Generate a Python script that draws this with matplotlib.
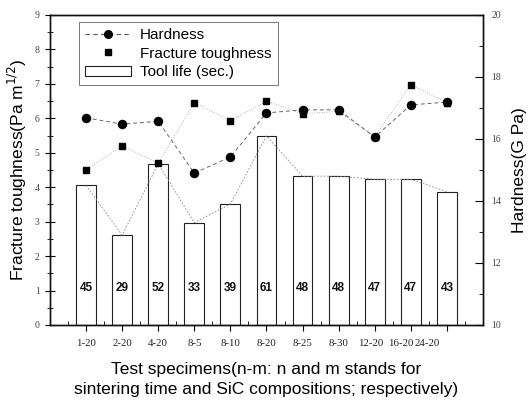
import matplotlib
matplotlib.use("Agg")
import matplotlib.pyplot as plt
from matplotlib.patches import Patch
from matplotlib.lines import Line2D
from matplotlib.ticker import MultipleLocator, FixedLocator
from matplotlib.transforms import ScaledTranslation
import numpy as np

categories = ['1-20', '2-20', '4-20', '8-5', '8-10', '8-20', '8-25', '8-30',
              '12-20', '16-20', '24-20']
tool_life = [45, 29, 52, 33, 39, 61, 48, 48, 47, 47, 43]
hardness = [16.68, 16.48, 16.57, 14.9, 15.42, 16.84, 16.94, 16.94, 16.06, 17.1, 17.19]
toughness = [4.5, 5.2, 4.7, 6.45, 5.93, 6.5, 6.13, 6.2, 5.47, 6.98, 6.45]

sans = ['Liberation Sans', 'DejaVu Sans']
serif = ['Liberation Serif', 'DejaVu Serif']

fig = plt.figure(figsize=(5.29, 4.09), dpi=100)
ax = fig.add_axes([0.0945, 0.2054, 0.8185, 0.758])
axb = ax.twinx()
axh = ax.twinx()
axb.set_zorder(0)
ax.set_zorder(1)
axh.set_zorder(2)
ax.patch.set_visible(False)
axh.patch.set_visible(False)
axb.patch.set_facecolor('white')

x = np.arange(1, len(categories) + 1)

# Tool life bars on hidden axis (0-100)
axb.bar(x, tool_life, width=0.55, facecolor='white', edgecolor='#222222', linewidth=0.8)
axb.plot(x, tool_life, linestyle=(0, (2, 2)), color='#888888', linewidth=0.6)
for xi, v in zip(x, tool_life):
    axb.text(xi, 12, str(v), ha='center', va='center', fontsize=8.5,
             fontweight='bold', family=sans, color='#111111')
axb.set_ylim(0, 100)
axb.set_yticks([])
for s in axb.spines.values():
    s.set_visible(False)

# Fracture toughness
ax.plot(x, toughness, linestyle=(0, (1, 2)), color='#999999', linewidth=0.6,
        marker='s', markersize=4.2, markerfacecolor='black', markeredgecolor='black')
ax.set_xlim(0, 12)
ax.set_ylim(0, 9)
ax.yaxis.set_major_locator(MultipleLocator(1))
ax.yaxis.set_minor_locator(MultipleLocator(0.5))
ax.xaxis.set_major_locator(FixedLocator(x))
ax.xaxis.set_minor_locator(FixedLocator(np.arange(0.5, 12, 1.0)))
ax.set_xticklabels(categories)
ax.tick_params(axis='y', which='major', direction='inout', length=7, width=0.8,
               labelsize=7, labelcolor='#444444', pad=4)
ax.tick_params(axis='y', which='minor', direction='inout', length=4, width=0.6)
ax.tick_params(axis='x', which='major', direction='out', length=4, width=0.8,
               labelsize=7.8, labelcolor='#222222', pad=6)
ax.tick_params(axis='x', which='minor', direction='in', length=3, width=0.6)
for lab in ax.get_yticklabels() + ax.get_xticklabels():
    lab.set_family(serif)
offs = {'12-20': -4, '16-20': -10, '24-20': -20}
for lab in ax.get_xticklabels():
    t = lab.get_text()
    if t in offs:
        lab.set_transform(lab.get_transform() + ScaledTranslation(offs[t] / 100, 0, fig.dpi_scale_trans))

ax.set_ylabel('Fracture toughness(Pa m$^{1/2}$)', fontsize=12.5, family=sans, labelpad=4)
ax.set_xlabel('Test specimens(n-m: n and m stands for\nsintering time and SiC compositions; respectively)',
              fontsize=12.5, family=sans, labelpad=10, linespacing=1.45)

# Hardness
axh.plot(x, hardness, linestyle=(0, (4, 3)), color='#666666', linewidth=0.7,
         marker='o', markersize=5.8, markerfacecolor='black', markeredgecolor='black')
axh.set_ylim(10, 20)
axh.yaxis.set_major_locator(MultipleLocator(2))
axh.yaxis.set_minor_locator(MultipleLocator(1))
axh.tick_params(axis='y', which='major', direction='in', length=6, width=0.8,
                labelsize=7, labelcolor='#444444', pad=6)
axh.tick_params(axis='y', which='minor', direction='in', length=3, width=0.6)
for lab in axh.get_yticklabels():
    lab.set_family(serif)
axh.set_ylabel('Hardness(G Pa)', fontsize=12.5, family=sans, labelpad=8)

for a in (ax, axh):
    for s in a.spines.values():
        s.set_linewidth(1.0)
        s.set_color('#111111')

handles = [
    Line2D([], [], linestyle=(0, (4, 3)), color='#555555', linewidth=0.8, marker='o',
           markersize=5.5, markerfacecolor='black', markeredgecolor='black'),
    Line2D([], [], linestyle='none', marker='s', markersize=4.2,
           markerfacecolor='black', markeredgecolor='black'),
    Patch(facecolor='white', edgecolor='#222222', linewidth=0.8),
]
labels = ['Hardness', 'Fracture toughness', 'Tool life (sec.)']
leg = axh.legend(handles, labels, loc='upper left', bbox_to_anchor=(0.067, 0.977),
                 borderaxespad=0, frameon=True, fancybox=False, edgecolor='#555555',
                 prop={'family': sans, 'size': 11}, handlelength=3.0, handletextpad=0.6,
                 labelspacing=0.3, borderpad=0.4)
leg.get_frame().set_linewidth(0.7)

fig.savefig('out.png', dpi=100)
